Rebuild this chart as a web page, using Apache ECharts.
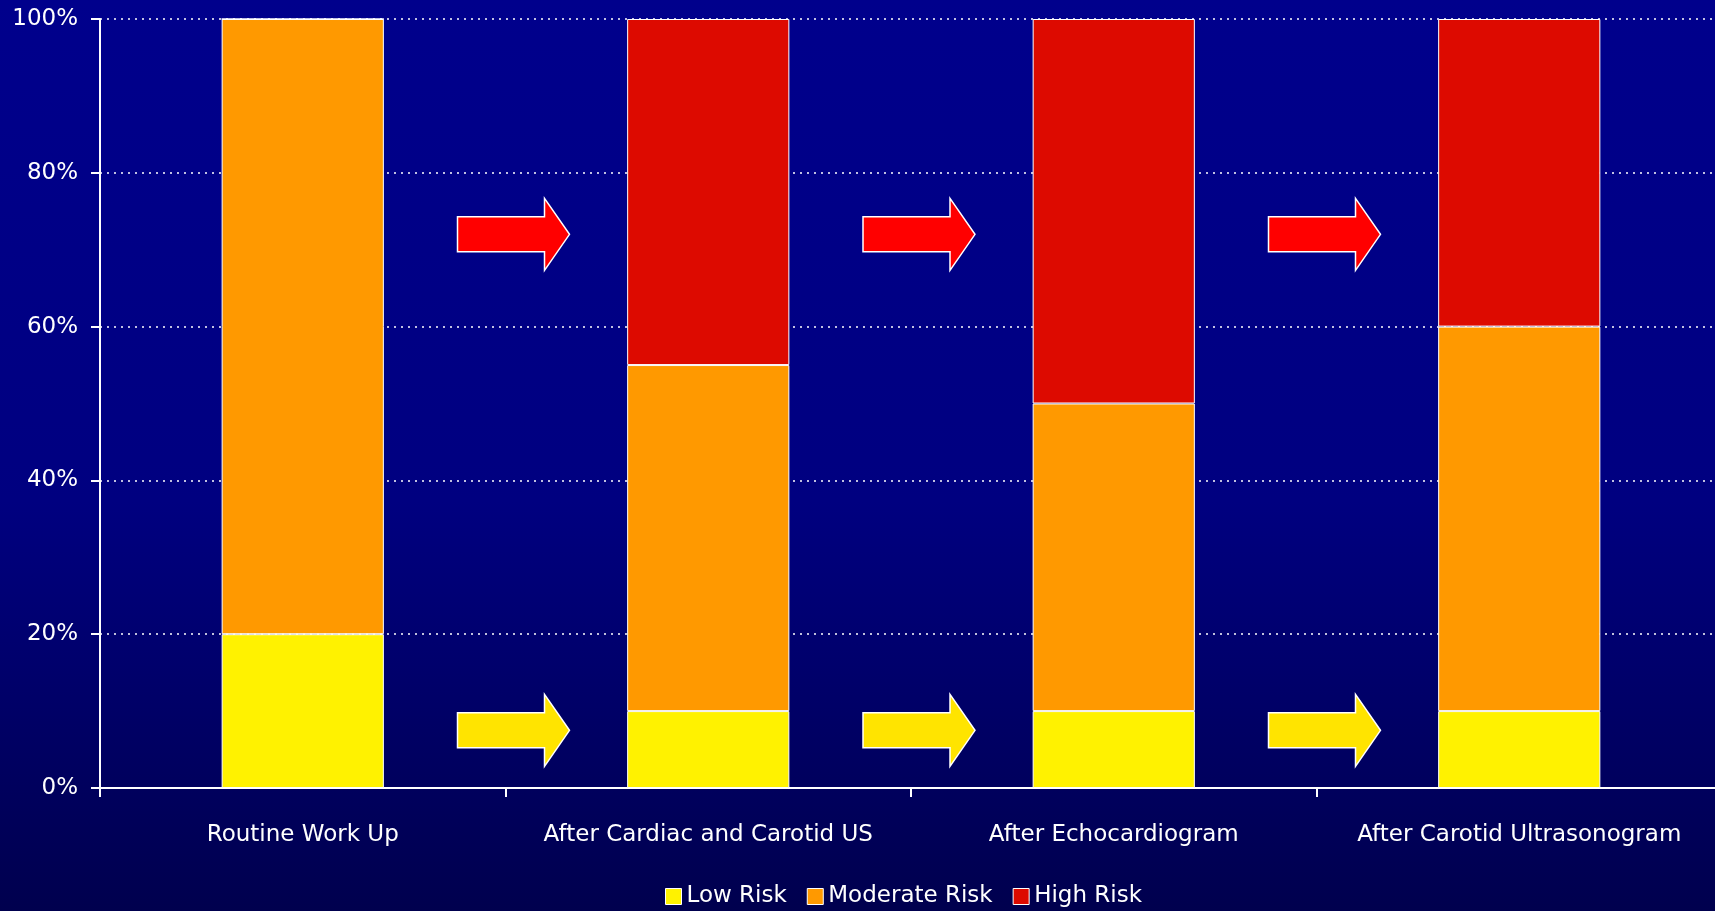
<!DOCTYPE html>
<html><head><meta charset="utf-8">
<script src="https://cdn.jsdelivr.net/npm/echarts@6/dist/echarts.min.js"></script>
<style>
html,body{margin:0;padding:0;width:1715px;height:911px;overflow:hidden;
background:linear-gradient(to bottom,#00008c 0%,#000080 55%,#00004e 100%);}
#c{width:1722px;height:911px;}
</style></head><body><div id="c"></div>
<script>
const categories = ['Routine Work Up','After Cardiac and Carotid US','After Echocardiogram','After Carotid Ultrasonogram'];
const lowRisk = [20,10,10,10];
const moderateRisk = [80,45,40,50];
const highRisk = [0,45,50,40];
const yTicks = [0,20,40,60,80,100];
const redArrowLevel = 72;
const yellowArrowLevel = 7.5;

const FONT = "'Comic Sans MS','DejaVu Sans',sans-serif";
const chart = echarts.init(document.getElementById('c'));
const barStyle = c => ({color:c, borderColor:'#ffffff', borderWidth:1});
chart.setOption({
  backgroundColor:'transparent',
  textStyle:{fontFamily:FONT},
  grid:{left:100,top:19,bottom:123,right:0,containLabel:false},
  legend:{bottom:-2,left:660,icon:'rect',itemWidth:16,itemHeight:16,itemGap:20,
    textStyle:{color:'#ffffff',fontSize:23,fontFamily:FONT},
    data:['Low Risk','Moderate Risk','High Risk'],
    itemStyle:{borderColor:'#ffffff',borderWidth:1}},
  xAxis:{type:'category',data:categories,
    axisLine:{lineStyle:{color:'#ffffff',width:2}},
    axisTick:{show:true,length:9,lineStyle:{color:'#ffffff',width:2}},
    axisLabel:{color:'#ffffff',fontSize:23,margin:36,fontFamily:FONT,interval:0}},
  yAxis:{type:'value',min:0,max:100,interval:20,
    axisLine:{show:true,lineStyle:{color:'#ffffff',width:2}},
    axisTick:{show:true,length:9,lineStyle:{color:'#ffffff',width:2}},
    axisLabel:{color:'#ffffff',fontSize:23,margin:22,fontFamily:FONT,
      formatter:v=>yTicks.includes(v)?v+'%':''},
    splitLine:{show:true,lineStyle:{color:'#ffffff',type:[2,5],width:1.5}}},
  series:[
    {name:'Low Risk',type:'bar',stack:'r',data:lowRisk,barWidth:'40%',itemStyle:barStyle('#fff200')},
    {name:'Moderate Risk',type:'bar',stack:'r',data:moderateRisk,barWidth:'40%',itemStyle:barStyle('#ff9900')},
    {name:'High Risk',type:'bar',stack:'r',data:highRisk,barWidth:'40%',itemStyle:barStyle('#dd0a00')}
  ]
});

function arrow(cx, cy, fill){
  const L=-56, R=56, hx=31, bh=17.5, hh=36;
  const pts=[[cx+L,cy-bh],[cx+hx,cy-bh],[cx+hx,cy-hh],[cx+R,cy],[cx+hx,cy+hh],[cx+hx,cy+bh],[cx+L,cy+bh]];
  return {type:'polygon',shape:{points:pts},style:{fill:fill,stroke:'#ffffff',lineWidth:1.5},z:10};
}
const els=[];
for(let i=0;i<categories.length-1;i++){
  const a=chart.convertToPixel({xAxisIndex:0},categories[i]);
  const b=chart.convertToPixel({xAxisIndex:0},categories[i+1]);
  const cx=(a+b)/2+8;
  const yr=chart.convertToPixel({yAxisIndex:0},redArrowLevel);
  const yy=chart.convertToPixel({yAxisIndex:0},yellowArrowLevel);
  els.push(arrow(cx,yr,'#ff0000'));
  els.push(arrow(cx,yy,'#ffe400'));
}
chart.setOption({graphic:els});
</script></body></html>
